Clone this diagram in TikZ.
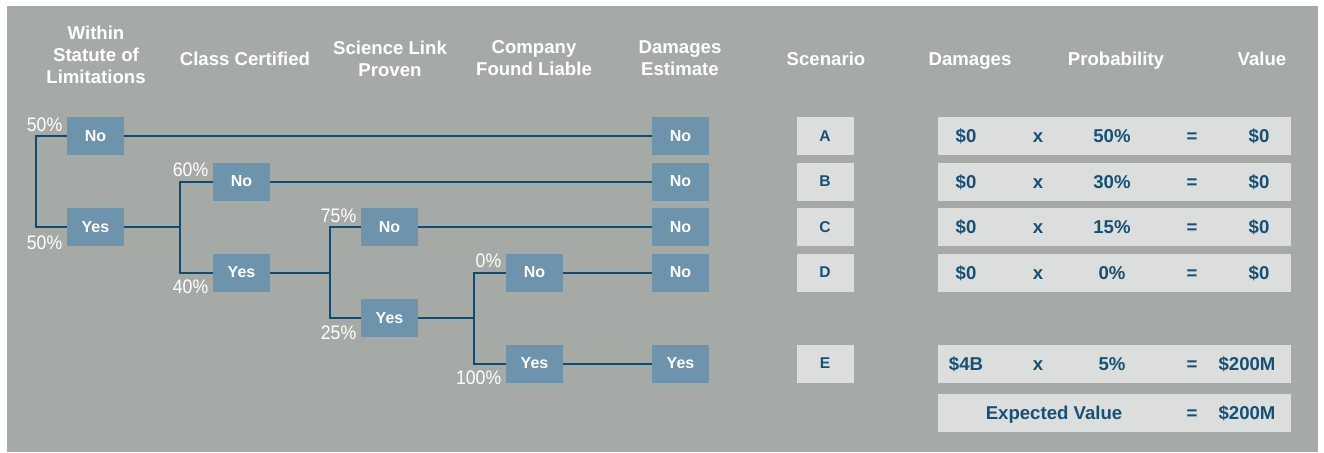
\documentclass[tikz,border=0pt]{standalone}
\usepackage{fontspec}
\setmainfont{Liberation Sans}
\newfontfamily\pctfont[FakeStretch=0.9]{Liberation Sans}
\usepackage{tikz}
\usetikzlibrary{positioning}
\definecolor{panelgray}{RGB}{166,170,166}
\definecolor{boxblue}{RGB}{109,147,173}
\definecolor{linkblue}{RGB}{16,76,113}
\definecolor{palebox}{RGB}{220,222,221}
\definecolor{valblue}{RGB}{22,80,116}
\tikzset{
  branch/.style={fill=boxblue, text=white, font=\bfseries\fontsize{8}{9}\selectfont,
    minimum width=28.5pt, minimum height=19pt, inner sep=0pt},
  scen/.style={fill=palebox, text=valblue, font=\bfseries\fontsize{7.8}{9}\selectfont,
    minimum width=28.5pt, minimum height=19pt, inner sep=0pt},
  valrow/.style={fill=palebox, minimum width=176.5pt, minimum height=19pt, inner sep=0pt},
  valtxt/.style={text=valblue, font=\bfseries\fontsize{9.3}{11}\selectfont, inner sep=0pt,
    text height=6.7pt, text depth=0pt},
  head/.style={text=white, font=\bfseries\fontsize{9.3}{11}\selectfont, align=center, inner sep=0pt},
  headone/.style={head, text height=6.7pt, text depth=0pt},
  pct/.style={text=white, font=\pctfont\fontsize{9.8}{11}\selectfont, inner sep=0pt},
  link/.style={draw=linkblue, line width=1pt}
}
\begin{document}
\begin{tikzpicture}[x=0.5pt,y=-0.5pt]
\useasboundingbox (0,0) rectangle (1324,452);
\fill[white] (0,0) rectangle (1324,452);
\fill[panelgray] (7,6) rectangle (1318,452);

% column heads
\node[head] (hLim) at (96,55) {Within\\Statute of\\Limitations};
\node[headone] (hCls) at (245,59) {Class Certified};
\node[head] (hSci) at (390,58.5) {Science Link\\Proven};
\node[head] (hCo) at (534,58.5) {Company\\Found Liable};
\node[head] (hEst) at (680,58.5) {Damages\\Estimate};
\node[headone] (hScn) at (826,59) {Scenario};
\node[headone] (hDmg) at (970,59) {Damages};
\node[headone] (hPrb) at (1116,59) {Probability};
\node[headone] (hVal) at (1262,59) {Value};

% decision tree
\node[branch] (n1) at (95.5,136) {No};
\node[branch] (y1) at (95.5,227) {Yes};
\node[branch] (n2) at (241.5,181.5) {No};
\node[branch] (y2) at (241.5,272.5) {Yes};
\node[branch] (n3) at (389.5,227) {No};
\node[branch] (y3) at (389.5,318) {Yes};
\node[branch] (n4) at (534.5,272.5) {No};
\node[branch] (y4) at (534.5,363.5) {Yes};

\node[branch] (d1) at (680.5,136) {No};
\node[branch] (d2) at (680.5,181.5) {No};
\node[branch] (d3) at (680.5,227) {No};
\node[branch] (d4) at (680.5,272.5) {No};
\node[branch] (d5) at (680.5,363.5) {Yes};

\coordinate (j1) at (36,181.5);
\coordinate (j2) at (180,227);
\coordinate (j3) at (330,272.5);
\coordinate (j4) at (474,318);

\draw[link] (n1.west) -| (j1) |- (y1.west);
\draw[link] (y1.east) -- (j2);
\draw[link] (n2.west) -| (j2) |- (y2.west);
\draw[link] (y2.east) -- (j3);
\draw[link] (n3.west) -| (j3) |- (y3.west);
\draw[link] (y3.east) -- (j4);
\draw[link] (n4.west) -| (j4) |- (y4.west);

\draw[link] (n1.east) -- (d1.west);
\draw[link] (n2.east) -- (d2.west);
\draw[link] (n3.east) -- (d3.west);
\draw[link] (n4.east) -- (d4.west);
\draw[link] (y4.east) -- (d5.west);

% branch odds
\node[pct, anchor=base east] (pn1) at ([xshift=-2pt,yshift=2.5pt]n1.west) {50\%};
\node[pct, anchor=base east] (py1) at ([xshift=-2pt,yshift=-11pt]y1.west) {50\%};
\node[pct, anchor=base east] (pn2) at ([xshift=-2pt,yshift=2.5pt]n2.west) {60\%};
\node[pct, anchor=base east] (py2) at ([xshift=-2pt,yshift=-10.5pt]y2.west) {40\%};
\node[pct, anchor=base east] (pn3) at ([xshift=-2pt,yshift=2.5pt]n3.west) {75\%};
\node[pct, anchor=base east] (py3) at ([xshift=-2pt,yshift=-10.5pt]y3.west) {25\%};
\node[pct, anchor=base east] (pn4) at ([xshift=-2pt,yshift=2.5pt]n4.west) {0\%};
\node[pct, anchor=base east] (py4) at ([xshift=-2pt,yshift=-10.5pt]y4.west) {100\%};

% scenarios and values
\foreach \ry/\lett/\prob in {136/A/50,181.5/B/30,227/C/15,272.5/D/0}{
  \node[scen] (s\lett) at (825,\ry) {\lett};
  \node[valrow] (v\lett) at (1114.5,\ry) {};
  \node[valtxt] at (966,\ry) {\$0};
  \node[valtxt] at (1038,\ry) {x};
  \node[valtxt] at (1112,\ry) {\prob\%};
  \node[valtxt] at (1192,\ry) {=};
  \node[valtxt] at (1259,\ry) {\$0};
}
\node[scen] (sE) at (825,363.5) {E};
\node[valrow] (vE) at (1114.5,363.5) {};
\node[valtxt] (dmgE) at (966,363.5) {\$4B};
\node[valtxt] (xE) at (1038,363.5) {x};
\node[valtxt] (prbE) at (1112,363.5) {5\%};
\node[valtxt] (eqE) at (1192,363.5) {=};
\node[valtxt] (valE) at (1247,363.5) {\$200M};

\node[valrow] (vSum) at (1114.5,413) {};
\node[valtxt] (sumLbl) at (1054,413) {Expected Value};
\node[valtxt] (sumEq) at (1192,413) {=};
\node[valtxt] (sumVal) at (1247,413) {\$200M};
\end{tikzpicture}
\end{document}
